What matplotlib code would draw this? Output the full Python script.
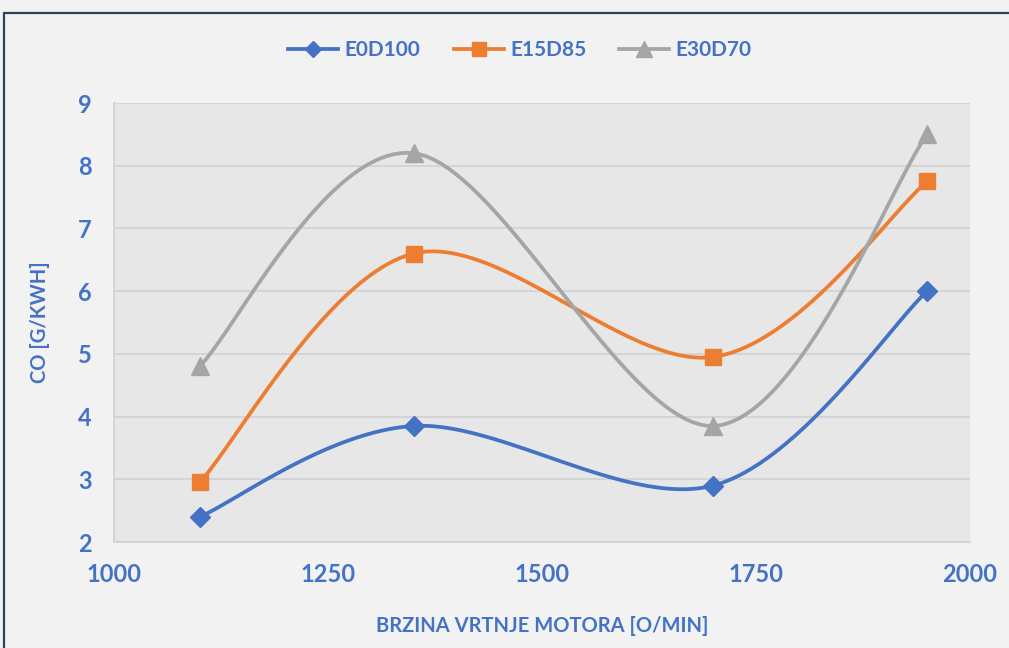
import numpy as np
import matplotlib
matplotlib.use("Agg")
import matplotlib.pyplot as plt
from matplotlib.patches import Rectangle

# data
rpm = [1100, 1350, 1700, 1950]
e0d100 = [2.4, 3.85, 2.9, 6.0]
e15d85 = [2.95, 6.6, 4.95, 7.75]
e30d70 = [4.8, 8.2, 3.85, 8.5]
series_names = ["E0D100", "E15D85", "E30D70"]

txt = "#4472C4"
plt.rcParams["font.family"] = ["Lato", "DejaVu Sans"]


def smooth(ax, xs, ys, n=40):
    # Excel-like smoothed line: cubic bezier through the points, built in pixel space
    pts = ax.transData.transform(np.column_stack([xs, ys]))
    ext = np.vstack([pts[0], pts, pts[-1]])
    t = np.linspace(0, 1, n)[:, None]
    segs = []
    for i in range(len(pts) - 1):
        p0, p1, p2, p3 = ext[i], ext[i + 1], ext[i + 2], ext[i + 3]
        c1 = p1 + (p2 - p0) / 6
        c2 = p2 - (p3 - p1) / 6
        segs.append((1 - t) ** 3 * p1 + 3 * (1 - t) ** 2 * t * c1
                    + 3 * (1 - t) * t ** 2 * c2 + t ** 3 * p2)
    return ax.transData.inverted().transform(np.vstack(segs))


fig = plt.figure(figsize=(10.09, 6.48), dpi=100)
fig.patch.set_facecolor("#F2F2F2")
fig.patches.append(Rectangle((4 / 1009, -0.2), 2, 1 - 13 / 648 + 0.2,
                             transform=fig.transFigure, fill=False,
                             edgecolor="#2F4060", linewidth=1.6))

ax = fig.add_axes([114 / 1009, 106 / 648, 856 / 1009, 439 / 648])
ax.set_facecolor("#E7E7E7")
ax.set_xlim(1000, 2000)
ax.set_ylim(2, 9)
ax.set_xticks([1000, 1250, 1500, 1750, 2000])
ax.set_yticks(range(2, 10))
ax.grid(axis="y", color="#D2D2D6", linewidth=1.3)
ax.set_axisbelow(True)
for s in ["top", "right"]:
    ax.spines[s].set_visible(False)
for s in ["left", "bottom"]:
    ax.spines[s].set_color("#D2D2D6")
    ax.spines[s].set_linewidth(1.3)
ax.tick_params(length=0, labelsize=17, labelcolor=txt)
ax.tick_params(axis="y", pad=16)
ax.tick_params(axis="x", pad=15)
for lab in ax.get_xticklabels() + ax.get_yticklabels():
    lab.set_fontweight("bold")

styles = [("#4472C4", "D", 10), ("#ED7D31", "s", 11.5), ("#A5A5A5", "^", 13)]
handles = []
for ys, name, (c, m, ms) in zip([e0d100, e15d85, e30d70], series_names, styles):
    curve = smooth(ax, rpm, ys)
    ax.plot(curve[:, 0], curve[:, 1], color=c, linewidth=2.7, solid_capstyle="round", zorder=3)
    ax.plot(rpm, ys, linestyle="none", marker=m, markersize=ms, color=c, zorder=4)
    h, = ax.plot([], [], color=c, linewidth=2.7, marker=m, markersize=ms * 0.85, label=name)
    handles.append(h)

fig.legend(handles=handles, loc="center", bbox_to_anchor=(520 / 1009, 1 - 50 / 648),
           ncol=3, frameon=False, handlelength=2.4,
           columnspacing=1.6, handletextpad=0.3, labelcolor=txt,
           prop={"weight": "bold", "size": 15})

ax.set_xlabel("BRZINA VRTNJE MOTORA [O/MIN]", fontsize=14.5, color=txt,
              fontweight="bold", labelpad=22)
ax.set_ylabel("CO [G/KWH]", fontsize=14.5, color=txt, fontweight="bold", labelpad=20)

fig.savefig("out.png", dpi=100, facecolor=fig.get_facecolor())
